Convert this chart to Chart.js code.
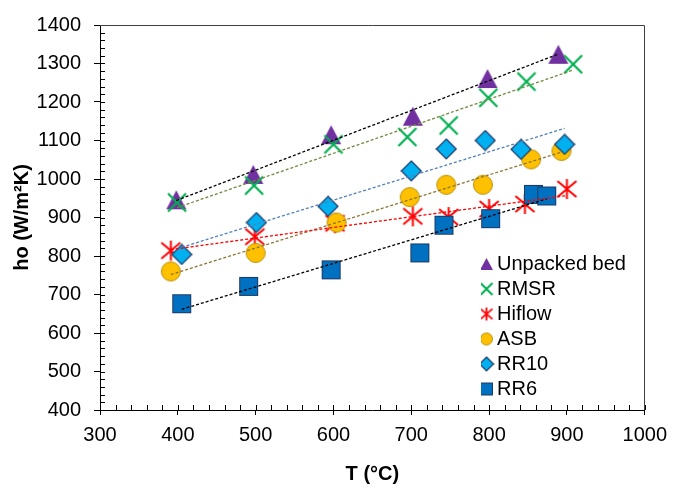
<!DOCTYPE html>
<html><head><meta charset="utf-8">
<script src="https://cdn.jsdelivr.net/npm/chart.js@4"></script>
<style>html,body{margin:0;padding:0;background:#fff}canvas{display:block}</style>
</head><body>
<canvas id="c" width="675" height="490"></canvas>
<script>
// ---- data ----
const seriesNames = ['Unpacked bed', 'RMSR', 'Hiflow', 'ASB', 'RR10', 'RR6'];
const unpackedT = [398, 497, 597, 702, 798, 889];
const unpackedH = [946, 1012, 1115, 1163, 1261, 1324];
const rmsrT = [399, 498, 600, 695, 748, 799, 848, 908];
const rmsrH = [939, 983, 1090, 1109, 1139, 1211, 1253, 1298];
const hiflowT = [391, 499, 602, 702, 748, 800, 846, 900];
const hiflowH = [814, 850, 885, 903, 901, 922, 935, 974];
const asbT = [391, 500, 604, 698, 745, 792, 854, 893];
const asbH = [760, 808, 887, 953, 985, 985, 1051, 1073];
const rr10T = [405, 501, 593, 700, 745, 795, 841, 897];
const rr10H = [804, 887, 929, 1021, 1078, 1100, 1077, 1090];
const rr6T = [405, 491, 597, 711, 742, 802, 857, 874];
const rr6H = [676, 721, 764, 808, 880, 897, 960, 956];
const xTickValues = [300, 400, 500, 600, 700, 800, 900, 1000];
const xTickLabels = ['300', '400', '500', '600', '700', '800', '900', '1000'];
const yTickValues = [400, 500, 600, 700, 800, 900, 1000, 1100, 1200, 1300, 1400];
const yTickLabels = ['400', '500', '600', '700', '800', '900', '1000', '1100', '1200', '1300', '1400'];
const xTitle = 'T (°C)';
const yTitle = 'ho (W/m²K)';

// ---- marker glyphs ----
function mk(w, h, fn) { const c = document.createElement('canvas'); c.width = w; c.height = h; const g = c.getContext('2d'); fn(g, w, h); return c; }
function triangle(w, h) { return mk(w + 2, h + 2, (g, W, H) => { g.fillStyle = '#7030A0'; g.beginPath(); g.moveTo(W / 2, 1); g.lineTo(W - 1, H - 1); g.lineTo(1, H - 1); g.closePath(); g.fill(); }); }
function cross(s, lw) { return mk(s + 4, s + 4, (g, W, H) => { g.strokeStyle = '#00B050'; g.lineWidth = lw; const a = s / 2, cx = W / 2, cy = H / 2; g.beginPath(); g.moveTo(cx - a, cy - a); g.lineTo(cx + a, cy + a); g.moveTo(cx + a, cy - a); g.lineTo(cx - a, cy + a); g.stroke(); }); }
function star(w, h, lw) { return mk(w + 4, h + 4, (g, W, H) => { g.strokeStyle = '#FF0000'; g.lineWidth = lw; const a = w / 2, b = h / 2, cx = W / 2, cy = H / 2; g.beginPath(); g.moveTo(cx - a, cy - a * 0.85); g.lineTo(cx + a, cy + a * 0.85); g.moveTo(cx + a, cy - a * 0.85); g.lineTo(cx - a, cy + a * 0.85); g.moveTo(cx, cy - b); g.lineTo(cx, cy + b); g.stroke(); }); }
function circle(d) { return mk(d + 2, d + 2, (g, W, H) => { g.fillStyle = '#FFC000'; g.strokeStyle = '#B8900A'; g.lineWidth = 1; g.beginPath(); g.arc(W / 2, H / 2, d / 2 - 0.5, 0, Math.PI * 2); g.fill(); g.stroke(); }); }
function diamond(s) { return mk(s + 2, s + 2, (g, W, H) => { g.fillStyle = '#00B0F0'; g.strokeStyle = '#1F3864'; g.lineWidth = 1.2; const a = s / 2, cx = W / 2, cy = H / 2; g.beginPath(); g.moveTo(cx, cy - a); g.lineTo(cx + a, cy); g.lineTo(cx, cy + a); g.lineTo(cx - a, cy); g.closePath(); g.fill(); g.stroke(); }); }
function square(s) { return mk(s + 2, s + 2, (g, W, H) => { g.fillStyle = '#0070C0'; g.strokeStyle = '#1F3864'; g.lineWidth = 1; g.fillRect(1, 1, s, s); g.strokeRect(1.5, 1.5, s - 1, s - 1); }); }

const plotIcons = [triangle(20, 19), cross(18, 2.2), star(19, 20, 2), circle(20), diamond(20), square(19)];
const legendIcons = [triangle(13, 12), cross(12, 2), star(12, 13, 1.8), circle(13), diamond(14), square(13)];
const trendColors = ['#000000', '#6E8B3D', '#FF0000', '#8B7530', '#4F81BD', '#000000'];

const seriesT = [unpackedT, rmsrT, hiflowT, asbT, rr10T, rr6T];
const seriesH = [unpackedH, rmsrH, hiflowH, asbH, rr10H, rr6H];

function linFit(xs, ys) {
  const n = xs.length; let sx = 0, sy = 0, sxx = 0, sxy = 0;
  for (let i = 0; i < n; i++) { sx += xs[i]; sy += ys[i]; sxx += xs[i] * xs[i]; sxy += xs[i] * ys[i]; }
  const b = (n * sxy - sx * sy) / (n * sxx - sx * sx); const a = (sy - b * sx) / n; return {a, b};
}

const datasets = [];
seriesNames.forEach((name, i) => {
  datasets.push({
    label: name,
    data: seriesT[i].map((t, k) => ({x: t, y: seriesH[i][k]})),
    pointStyle: plotIcons[i], pointRadius: 10, pointHoverRadius: 10,
    showLine: false, order: 6 - i + 1
  });
});
seriesNames.forEach((name, i) => {
  const xs = seriesT[i], f = linFit(xs, seriesH[i]);
  const x0 = Math.min(...xs), x1 = Math.max(...xs);
  datasets.push({
    label: name + ' trend',
    data: [{x: x0, y: f.a + f.b * x0}, {x: x1, y: f.a + f.b * x1}],
    showLine: true, pointRadius: 0, borderColor: trendColors[i], borderWidth: 1.3,
    borderDash: [3, 2], fill: false, order: 0
  });
});

const framePlugin = {
  id: 'frame',
  beforeDatasetsDraw(chart) {
    const {ctx, chartArea: ca, scales: {x, y}} = chart;
    ctx.save();
    ctx.strokeStyle = '#000'; ctx.lineWidth = 1;
    ctx.beginPath();
    for (let v = 400; v <= 1400; v += 20) { const py = Math.round(y.getPixelForValue(v)) + 0.5; ctx.moveTo(ca.left, py); ctx.lineTo(ca.left + 5, py); }
    for (let t = 300; t <= 1000; t += 20) { const px = Math.round(x.getPixelForValue(t)) + 0.5; ctx.moveTo(px, ca.bottom); ctx.lineTo(px, ca.bottom - 5); }
    ctx.stroke();
    ctx.strokeStyle = '#404040';
    ctx.beginPath();
    const t0 = Math.round(ca.top) + 0.5, r0 = Math.round(ca.right) - 0.5;
    ctx.moveTo(ca.left, t0); ctx.lineTo(r0, t0); ctx.lineTo(r0, ca.bottom);
    ctx.stroke();
    ctx.restore();
  }
};
const legendPlace = {
  id: 'legendPlace',
  afterLayout(chart) {
    const l = chart.legend; if (!l) return;
    const w = l.width;
    l.left = 481; l.top = 249; l.right = l.left + w; l.bottom = l.top + 200;
  }
};

Chart.defaults.font.family = "'Liberation Sans', Arial, sans-serif";
Chart.defaults.color = '#000';

new Chart(document.getElementById('c'), {
  type: 'scatter',
  data: {datasets},
  options: {
    responsive: false, animation: false, events: [],
    layout: {padding: {top: 14, right: 26, left: 0, bottom: 0}},
    plugins: {
      tooltip: {enabled: false},
      legend: {
        position: 'chartArea', align: 'start',
        labels: {
          usePointStyle: true, boxWidth: 1, boxHeight: 20, padding: 5,
          font: {size: 20}, color: '#000',
          generateLabels: () => seriesNames.map((n, i) => ({
            text: n, pointStyle: legendIcons[i], datasetIndex: i, hidden: false,
            fillStyle: '#000', strokeStyle: '#000', lineWidth: 0, fontColor: '#000'
          }))
        }
      }
    },
    scales: {
      x: {
        type: 'linear', min: 300, max: 1000,
        afterBuildTicks: s => { s.ticks = xTickValues.map(v => ({value: v})); },
        afterFit: s => { s.height = 80; },
        ticks: {font: {size: 20}, color: '#000', padding: 8, maxRotation: 0, autoSkip: false,
          callback: (v) => { const i = xTickValues.indexOf(v); return i >= 0 ? xTickLabels[i] : ''; }},
        grid: {drawOnChartArea: false, drawTicks: true, tickLength: 5, tickColor: '#000', color: '#000'},
        border: {display: true, color: '#000', width: 1},
        title: {display: true, text: xTitle, font: {size: 20, weight: 'bold'}, color: '#000', padding: {top: 0, bottom: 4}}
      },
      y: {
        type: 'linear', min: 400, max: 1400,
        afterBuildTicks: s => { s.ticks = yTickValues.map(v => ({value: v})); },
        afterFit: s => { s.width = 100; },
        ticks: {font: {size: 20}, color: '#000', padding: 13, autoSkip: false,
          callback: (v) => { const i = yTickValues.indexOf(v); return i >= 0 ? yTickLabels[i] : ''; }},
        grid: {drawOnChartArea: false, drawTicks: true, tickLength: 6, tickColor: '#000', color: '#000'},
        border: {display: true, color: '#000', width: 1},
        title: {display: true, text: yTitle, font: {size: 20, weight: 'bold'}, color: '#000', padding: {top: 10, bottom: 0}}
      }
    }
  },
  plugins: [framePlugin, legendPlace]
});
</script>
</body></html>
